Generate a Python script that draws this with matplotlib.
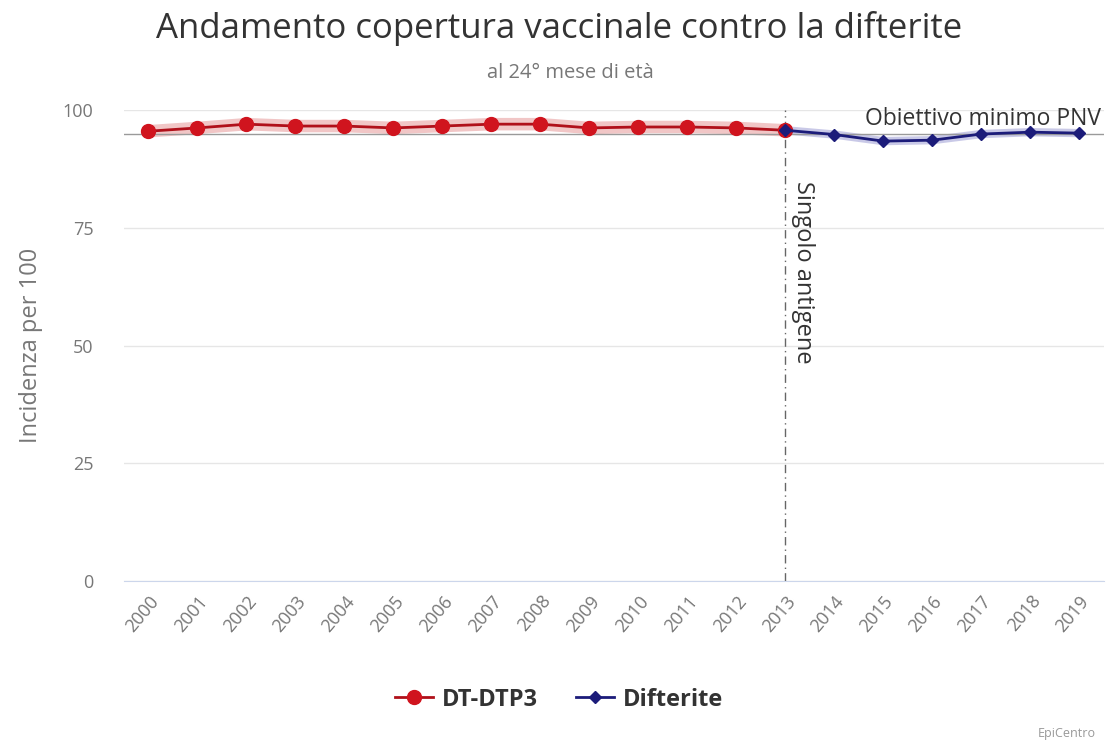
import matplotlib
matplotlib.use("Agg")
import matplotlib.pyplot as plt
import numpy as np

plt.rcParams['font.family'] = ['Open Sans', 'DejaVu Sans']

# dati
anni = [str(a) for a in range(2000, 2020)]
dtp3_anni = anni[:14]
dtp3 = [95.5, 96.2, 97.0, 96.6, 96.6, 96.2, 96.6, 97.0, 97.0, 96.2, 96.4, 96.4, 96.2, 95.7]
dift_anni = anni[13:]
difterite = [95.7, 94.8, 93.4, 93.6, 94.9, 95.3, 95.1]
obiettivo = 95
anno_antigene = "2013"
y_ticks = [0, 25, 50, 75, 100]

fig = plt.figure(figsize=(11.07, 7.46), dpi=100)
ax = fig.add_axes([0.112, 0.2212, 0.885, 0.6313])

x_all = np.arange(len(anni))
pos = {a: i for i, a in enumerate(anni)}
x_dtp = [pos[a] for a in dtp3_anni]
x_dif = [pos[a] for a in dift_anni]

# alone chiaro dietro le linee
ax.plot(x_dtp, dtp3, color='#e8a0a0', lw=9, alpha=0.6, solid_capstyle='round', zorder=2)
ax.plot(x_dif, difterite, color='#a6a6d8', lw=6, alpha=0.6, solid_capstyle='round', zorder=2)

ax.plot(x_dtp, dtp3, color='#b0101a', lw=2, marker='o', ms=10,
        mfc='#d0141e', mec='#d0141e', zorder=4, label='DT-DTP3')
ax.plot(x_dif, difterite, color='#1c1c7a', lw=2, marker='D', ms=6,
        mfc='#1c1c7a', mec='#1c1c7a', zorder=4, label='Difterite')

# linea obiettivo
ax.axhline(obiettivo, color='#9a9a9a', lw=1, zorder=3)
ax.text(len(anni) - 0.5 - 0.05, obiettivo + 0.6, 'Obiettivo minimo PNV', ha='right', va='bottom',
        fontsize=16.5, color='#333333')

# linea singolo antigene
ax.axvline(pos[anno_antigene], color='#666666', lw=1, ls=(0, (6, 3, 1, 3)), zorder=3)
ax.text(pos[anno_antigene] + 0.12, 85, 'Singolo antigene', rotation=-90, ha='left', va='top',
        fontsize=17, color='#333333')

ax.set_xlim(-0.5, len(anni) - 0.5)
ax.set_ylim(0, 100)
ax.set_xticks(x_all)
ax.set_xticklabels(anni, rotation=50, ha='right', rotation_mode='anchor', color='#777777', fontsize=13)
ax.set_yticks(y_ticks)
ax.set_yticklabels([str(v) for v in y_ticks], color='#777777', fontsize=13)
ax.tick_params(axis='y', length=0, pad=22)
ax.tick_params(axis='x', length=0, pad=8)
ax.grid(axis='y', color='#e6e6e6', lw=1)
ax.set_axisbelow(True)
for s in ['top', 'right', 'left']:
    ax.spines[s].set_visible(False)
ax.spines['bottom'].set_color('#ccd6eb')
ax.set_ylabel('Incidenza per 100', color='#777777', fontsize=17, labelpad=14)

fig.text(0.505, 0.962, 'Andamento copertura vaccinale contro la difterite', ha='center', va='center',
         fontsize=25, color='#333333')
fig.text(0.515, 0.902, 'al 24° mese di età', ha='center', va='center', fontsize=14.5, color='#777777')

leg = fig.legend(loc='center', bbox_to_anchor=(0.505, 0.062), ncol=2, frameon=False,
                 fontsize=17, handlelength=1.6, columnspacing=1.6, handletextpad=0.4)
for t in leg.get_texts():
    t.set_color('#333333')
    t.set_fontweight('bold')

fig.text(0.99, 0.017, 'EpiCentro', ha='right', va='center', fontsize=9, color='#999999')

fig.savefig('out.png', dpi=100)
